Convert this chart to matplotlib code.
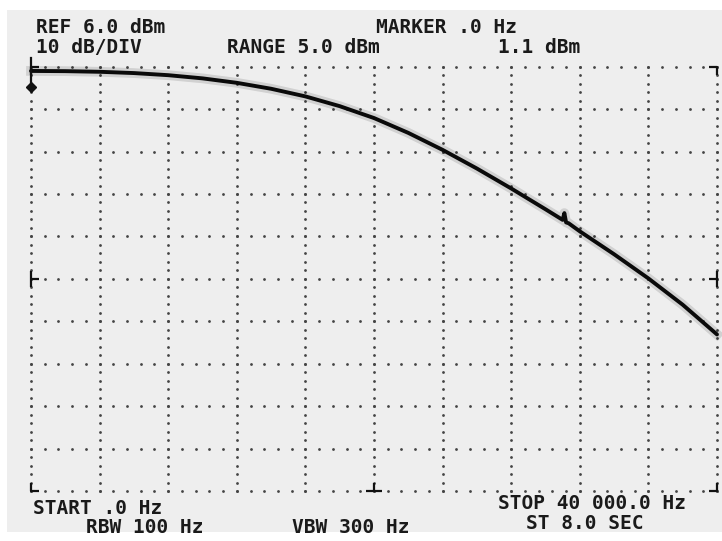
#! /usr/bin/env python3

import matplotlib.pyplot as plt
import numpy as np

# trace (Hz, dBm)
freq_hz = [0, 2000, 4000, 6000, 8000, 10000, 12000, 14000, 16000, 18000, 20000,
           22000, 24000, 26000, 28000, 30000, 31000, 31100, 31200, 31350,
           32000, 34000, 36000, 38000, 40000]
level_dbm = [5.0, 4.95, 4.8, 4.5, 4.0, 3.25, 2.2, 0.8, -1.0, -3.3, -6.1,
             -9.6, -13.6, -18.0, -22.7, -27.6, -30.1, -28.5, -30.7, -30.9,
             -32.8, -38.2, -43.9, -50.1, -57.1]

marker_hz = 0.0
marker_dbm = 1.1

ref_dbm = 6.0
db_per_div = 10.0
n_div = 10
start_hz = 0.0
stop_hz = 40000.0

top_labels = [("REF 6.0 dBm", 36, 33), ("MARKER .0 Hz", 376, 33),
              ("10 dB/DIV", 36, 53), ("RANGE 5.0 dBm", 227, 53), ("1.1 dBm", 498, 53)]
bottom_labels = [("START .0 Hz", 33, 514), ("STOP 40 000.0 Hz", 498, 509),
                 ("RBW 100 Hz", 86, 533), ("VBW 300 Hz", 292, 533), ("ST 8.0 SEC", 526, 529)]


def main():
    W, H = 722, 541
    fig = plt.figure(figsize=(W / 100, H / 100), dpi=100, facecolor="white")

    # screen photo background
    bg = fig.add_axes([7 / W, 1 - 532 / H, 1 - 7 / W, (532 - 10) / H])
    bg.set_axis_off()
    bg.add_patch(plt.Rectangle((0, 0), 1, 1, color="#eeeeee", transform=bg.transAxes))

    # graticule area
    x0, x1, y0, y1 = 31, 717, 66.7, 491
    ax = fig.add_axes([x0 / W, 1 - y1 / H, (x1 - x0) / W, (y1 - y0) / H])
    ax.patch.set_alpha(0)
    bottom_dbm = ref_dbm - n_div * db_per_div
    ax.set_xlim(start_hz, stop_hz)
    ax.set_ylim(bottom_dbm, ref_dbm)
    ax.set_axis_off()

    hz_div = (stop_hz - start_hz) / n_div
    hz_px = hz_div / ((x1 - x0) / n_div)
    db_px = db_per_div / ((y1 - y0) / n_div)

    # dotted graticule, 5 dots per division
    dot_x = np.arange(0, n_div * 5 + 1) * hz_div / 5
    dot_y = bottom_dbm + np.arange(0, n_div * 5 + 1) * db_per_div / 5
    for k in range(n_div + 1):
        yy = bottom_dbm + k * db_per_div
        ax.scatter(dot_x, np.full_like(dot_x, yy), s=4, color="#444444", lw=0, clip_on=False)
        xx = start_hz + k * hz_div
        ax.scatter(np.full_like(dot_y, xx), dot_y, s=4, color="#444444", lw=0, clip_on=False)

    # corner and centre marks
    lx, ly = 8 * hz_px, 8 * db_px
    kw = dict(color="#111111", lw=1.6, clip_on=False, solid_capstyle="butt")
    ax.plot([start_hz, start_hz, start_hz + lx], [bottom_dbm + ly, bottom_dbm, bottom_dbm], **kw)
    ax.plot([stop_hz - lx, stop_hz, stop_hz], [bottom_dbm, bottom_dbm, bottom_dbm + ly], **kw)
    ax.plot([stop_hz - lx, stop_hz, stop_hz], [ref_dbm, ref_dbm, ref_dbm - ly], **kw)
    ax.plot([start_hz + lx, start_hz, start_hz], [ref_dbm, ref_dbm, ref_dbm - ly], **kw)
    mid_db = bottom_dbm + n_div / 2 * db_per_div
    mid_hz = start_hz + n_div / 2 * hz_div
    ax.plot([start_hz, start_hz], [mid_db - ly, mid_db + ly], **kw)
    ax.plot([start_hz, start_hz + lx], [mid_db, mid_db], **kw)
    ax.plot([stop_hz, stop_hz], [mid_db - ly, mid_db + ly], **kw)
    ax.plot([stop_hz - lx, stop_hz], [mid_db, mid_db], **kw)
    ax.plot([mid_hz - lx, mid_hz + lx], [bottom_dbm, bottom_dbm], **kw)
    ax.plot([mid_hz, mid_hz], [bottom_dbm, bottom_dbm + ly], **kw)

    # trace with a little phosphor glow
    ax.plot(freq_hz, level_dbm, color="black", lw=7, alpha=0.12, clip_on=False,
            solid_joinstyle="round")
    ax.plot(freq_hz, level_dbm, color="#0a0a0a", lw=2.8, clip_on=False,
            solid_capstyle="round", solid_joinstyle="round")

    # marker
    ax.plot([marker_hz, marker_hz], [marker_dbm, ref_dbm + 9 * db_px], color="#111111",
            lw=1.6, clip_on=False)
    ax.plot([marker_hz], [marker_dbm], marker="D", ms=5, color="#111111", clip_on=False)

    font = dict(family="DejaVu Sans Mono", weight="bold", size=14, color="#1a1a1a")
    for txt, px, py in top_labels + bottom_labels:
        fig.text(px / W, 1 - py / H, txt, ha="left", va="baseline", **font)

    fig.savefig("out.png", dpi=100, facecolor="white")


if __name__ == '__main__':
    main()
